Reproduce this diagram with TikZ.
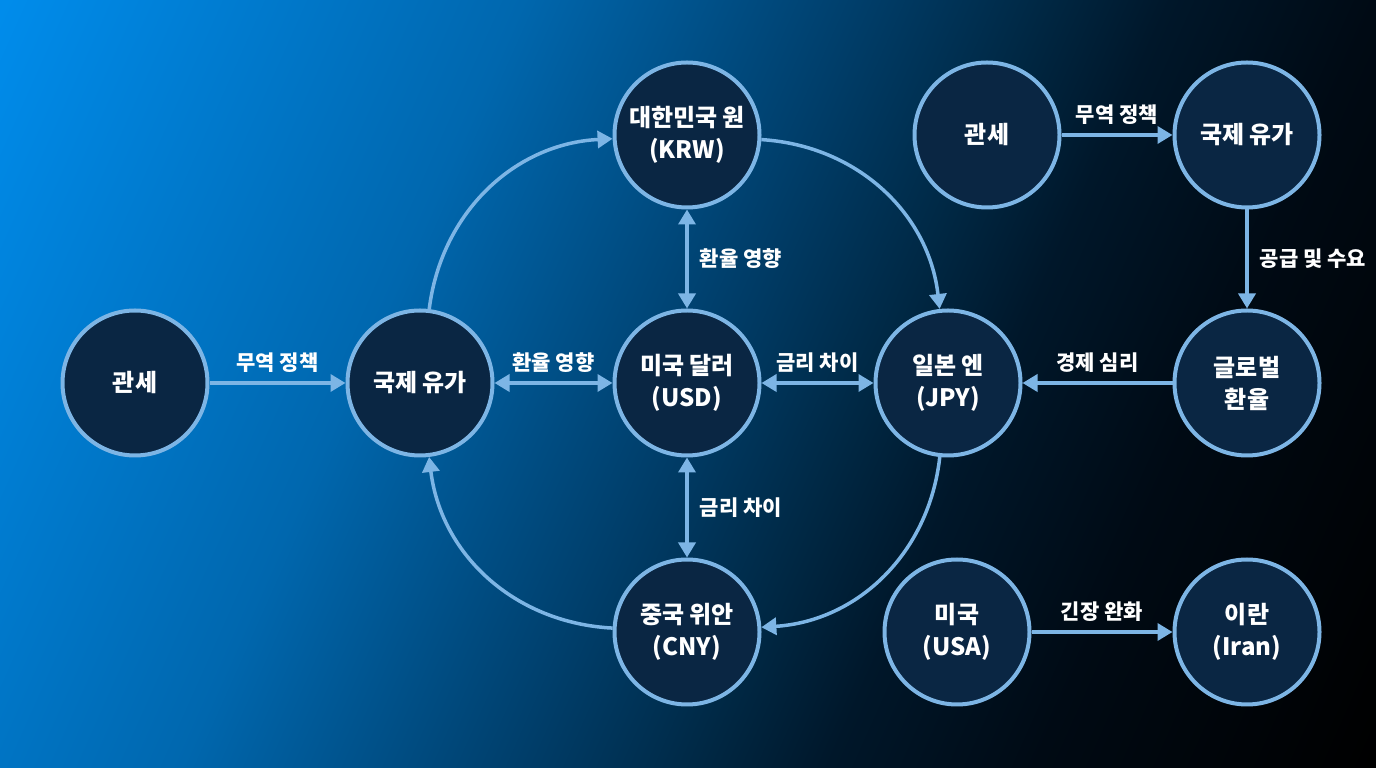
\documentclass[tikz,border=0pt]{standalone}
\usepackage{fontspec}
\setmainfont{Noto Sans CJK KR}
\usetikzlibrary{arrows.meta}
\definecolor{bgA}{HTML}{008CEB}
\definecolor{bgB}{HTML}{0067AE}
\definecolor{bgC}{HTML}{003E6A}
\definecolor{bgD}{HTML}{002844}
\definecolor{bgE}{HTML}{00172A}
\definecolor{bgF}{HTML}{000A14}
\definecolor{ringblue}{HTML}{7DB5E5}
\definecolor{nodenavy}{HTML}{0A2643}
\pgfdeclarehorizontalshading{bgshade}{100bp}{color(0bp)=(bgA); color(17bp)=(bgA); color(37bp)=(bgB); color(50bp)=(bgC); color(57bp)=(bgD); color(62bp)=(bgE); color(70bp)=(bgF); color(83bp)=(black); color(100bp)=(black)}
\tikzset{
    bubble/.style={circle, draw=ringblue, line width=4pt, fill=nodenavy, minimum size=145pt, inner sep=0pt, align=center, text=white, font=\fontsize{24}{32}\selectfont\bfseries},
    link/.style={draw=ringblue, line width=3.5pt, -{Triangle[length=15pt,width=17pt]}},
    twolink/.style={draw=ringblue, line width=3.5pt, {Triangle[length=15pt,width=17pt]}-{Triangle[length=15pt,width=17pt]}},
    tag/.style={text=white, inner sep=0pt, font=\fontsize{21}{25}\selectfont\bfseries}
}

\begin{document}
\begin{tikzpicture}[x=1pt, y=1pt]
    \useasboundingbox (0,0) rectangle (1376,768);
    \shade[shading=bgshade, shading angle=-24.06] (0,0) rectangle (1376,768);

    % main cluster
    \node[bubble] (tariff) at (135,385) {관세};
    \node[bubble] (oil) at (420,385) {국제 유가};
    \node[bubble] (krw) at (687,633) {대한민국 원\\(KRW)};
    \node[bubble] (usd) at (687,385) {미국 달러\\(USD)};
    \node[bubble] (jpy) at (948,385) {일본 엔\\(JPY)};
    \node[bubble] (cny) at (687,136) {중국 위안\\(CNY)};

    \draw[link] (tariff) -- node[tag, above=9pt] {무역 정책} (oil);
    \draw[twolink] (oil) -- node[tag, above=9pt] {환율 영향} (usd);
    \draw[twolink] (usd) -- node[tag, above=9pt] {금리 차이} (jpy);
    \draw[twolink] (krw) -- node[tag, right=11pt] {환율 영향} (usd);
    \draw[twolink] (usd) -- node[tag, right=11pt] {금리 차이} (cny);
    \draw[link] (oil) to[bend left=40] (krw);
    \draw[link] (krw) to[bend left=40] (jpy);
    \draw[link] (jpy) to[bend left=40] (cny);
    \draw[link] (cny) to[bend left=40] (oil);

    % right side
    \node[bubble] (tariff2) at (987,633) {관세};
    \node[bubble] (oil2) at (1247,633) {국제 유가};
    \node[bubble] (fx) at (1247,385) {글로벌\\환율};
    \node[bubble] (usa) at (957,136) {미국\\(USA)};
    \node[bubble] (iran) at (1247,136) {이란\\(Iran)};

    \draw[link] (tariff2) -- node[tag, above=9pt] {무역 정책} (oil2);
    \draw[link] (oil2) -- node[tag, right=11pt] {공급 및 수요} (fx);
    \draw[link] (fx) -- node[tag, above=9pt] {경제 심리} (jpy);
    \draw[link] (usa) -- node[tag, above=9pt] {긴장 완화} (iran);
\end{tikzpicture}
\end{document}
